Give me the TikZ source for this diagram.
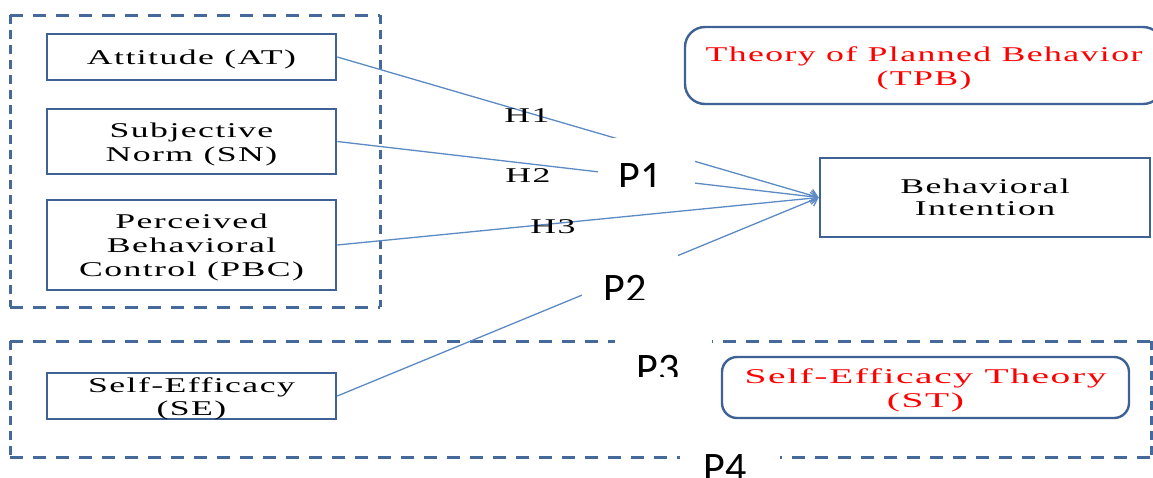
\documentclass[tikz,border=0pt]{standalone}
\usepackage{fontspec}
\setmainfont{Liberation Serif}
\newfontfamily\wserif[LetterSpace=4]{Liberation Serif}
\newfontfamily\pfont{Carlito}
\usetikzlibrary{arrows.meta}
\definecolor{boxc}{HTML}{3E6295}
\definecolor{dashc}{HTML}{46699B}
\definecolor{linec}{HTML}{5B8AC5}
\newcommand\wt[2][1.7]{\raisebox{-3pt}[\height][\depth]{\scalebox{#1}[1]{\begin{tabular}{@{}c@{}}#2\end{tabular}}}}
\begin{document}
\begin{tikzpicture}[x=1pt,y=-1pt,
  varbox/.style={draw=boxc,line width=2.6pt,fill=white,inner sep=0pt,
    font=\wserif\fontsize{21}{24}\selectfont},
  theorybox/.style={draw=boxc,line width=2.4pt,fill=white,rounded corners=20pt,inner sep=0pt,
    text=red,font=\wserif\fontsize{21}{24}\selectfont},
  hdash/.style={draw=dashc,line width=3pt,dash pattern=on 13pt off 10pt},
  vdash/.style={draw=dashc,line width=3pt,dash pattern=on 9pt off 6pt},
  conn/.style={draw=linec,line width=1.3pt,-{Straight Barb[length=7pt,width=12pt]}},
  hlab/.style={inner sep=0pt,font=\wserif\fontsize{21}{24}\selectfont},
  plab/.style={anchor=base,inner sep=0pt,font=\pfont\fontsize{42}{44}\selectfont}]
\useasboundingbox (0,0) rectangle (1153,477);

% dashed group outlines
\draw[hdash] (10,15) -- (380,15);
\draw[hdash] (10,307) -- (380,307);
\draw[vdash] (10,15) -- (10,307);
\draw[vdash] (380,15) -- (380,307);
\draw[hdash] (10,341) -- (1151,341);
\draw[hdash] (10,457) -- (1151,457);
\draw[vdash] (10,341) -- (10,457);
\draw[vdash] (1151,341) -- (1151,457);

% variable boxes
\node[varbox,minimum width=289pt,minimum height=46pt] (AT) at (191.5,57) {\wt{Attitude (AT)}};
\node[varbox,minimum width=289pt,minimum height=65pt] (SN) at (191.5,141.5) {\wt{Subjective\\Norm (SN)}};
\node[varbox,minimum width=289pt,minimum height=90pt] (PBC) at (191.5,245) {\wt{Perceived\\Behavioral\\Control (PBC)}};
\node[varbox,minimum width=289pt,minimum height=46pt,font=\wserif\fontsize{21}{23}\selectfont] (SE) at (191.5,396) {\wt{Self-Efficacy\\(SE)}};
\node[varbox,minimum width=330pt,minimum height=79pt,font=\wserif\fontsize{21}{22}\selectfont] (BI) at (985,197.5) {\wt{Behavioral\\Intention}};

% theory boxes
\node[theorybox,minimum width=478pt,minimum height=77pt] (TPB) at (924,65.5) {\wt{Theory of Planned Behavior\\(TPB)}};
\node[theorybox,rounded corners=15pt,minimum width=407pt,minimum height=61pt] (ST) at (925.5,387.5) {\wt[1.88]{Self-Efficacy Theory\\(ST)}};

% connectors
\draw[conn] (AT.east) -- (BI.west);
\draw[conn] (SN.east) -- (BI.west);
\draw[conn] (PBC.east) -- (BI.west);
\draw[conn] (SE.east) -- (BI.west);

% P labels (white boxes, clipped text)
\begin{scope}
  \clip (598,138) rectangle (695,186);
  \fill[white] (598,138) rectangle (695,186);
  \node[plab] (P1) at (640,190) {P1};
\end{scope}
\begin{scope}
  \clip (582,252) rectangle (678,299);
  \fill[white] (582,252) rectangle (678,299);
  \node[plab] (P2) at (625,302) {P2};
\end{scope}
\begin{scope}
  \clip (615,328) rectangle (712,376);
  \fill[white] (615,328) rectangle (712,376);
  \node[plab] (P3) at (658,382) {P3};
\end{scope}
\begin{scope}
  \clip (680,440) rectangle (780,477);
  \fill[white] (680,440) rectangle (780,477);
  \node[plab] (P4) at (725,481) {P4};
\end{scope}

% hypothesis labels
\node[hlab] (H1) at (527,115) {\wt{H1}};
\node[hlab] (H2) at (528,175) {\wt{H2}};
\node[hlab] (H3) at (553,226) {\wt{H3}};
\end{tikzpicture}
\end{document}
